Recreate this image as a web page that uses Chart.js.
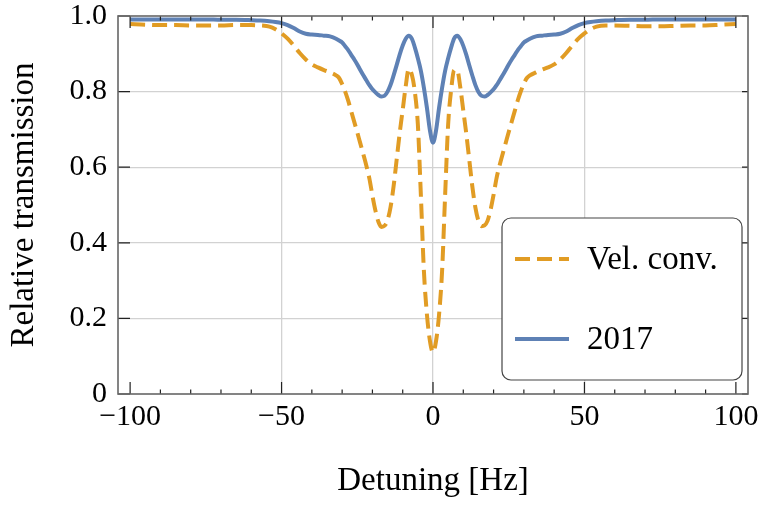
<!DOCTYPE html>
<html lang="en">
<head>
    <meta charset="UTF-8">
    <title>Relative transmission vs detuning</title>
    <script src="https://cdn.jsdelivr.net/npm/chart.js"></script>
    <style>
        html, body { margin: 0; padding: 0; background: #fff; }
        #chart { display: block; }
    </style>
</head>
<body>
    <canvas id="chart" width="761" height="505"></canvas>

    <script>
        // detuning in Hz
        const detuning = [
            -100, -95, -90, -85, -80, -75, -70, -65, -60, -57, -54, -52, -50, -48, -46, -44, -42, -40, -38, -36, -34, -32,
            -31, -30, -29, -28, -27, -26, -25, -24, -23, -22, -21, -20, -19, -18, -17, -16, -15, -14, -13, -12, -11,
            -10, -9, -8, -7, -6, -5, -4, -3, -2, -1, 0,
            1, 2, 3, 4, 5, 6, 7, 8, 9, 10, 11, 12, 13, 14, 15, 16, 17, 18, 19, 20, 21, 22, 23, 24, 25, 26, 27, 28, 29,
            30, 31, 32, 34, 36, 38, 40, 42, 44, 46, 48, 50, 52, 54, 57, 60, 65, 70, 75, 80, 85, 90, 95, 100
        ];
        const velConv = [
            0.979, 0.977, 0.976, 0.976, 0.975, 0.975, 0.975, 0.976, 0.976, 0.975, 0.972, 0.965, 0.954, 0.940, 0.922, 0.902, 0.885, 0.872, 0.864, 0.857, 0.851, 0.843,
            0.836, 0.820, 0.800, 0.776, 0.748, 0.720, 0.692, 0.663, 0.634, 0.604, 0.570, 0.525, 0.485, 0.455, 0.442, 0.445, 0.460, 0.495, 0.550, 0.620, 0.690,
            0.752, 0.815, 0.860, 0.845, 0.800, 0.713, 0.525, 0.325, 0.210, 0.140, 0.110,
            0.140, 0.210, 0.325, 0.525, 0.713, 0.805, 0.857, 0.856, 0.812, 0.750, 0.688, 0.618, 0.548, 0.493, 0.458, 0.444, 0.446, 0.458, 0.487, 0.527, 0.572, 0.605, 0.635, 0.664, 0.693, 0.721, 0.749, 0.777, 0.801,
            0.821, 0.836, 0.843, 0.851, 0.858, 0.864, 0.872, 0.885, 0.902, 0.922, 0.940, 0.954, 0.965, 0.972, 0.975, 0.975, 0.974, 0.973, 0.973, 0.974, 0.975, 0.975, 0.977, 0.979
        ];
        const data2017 = [
            0.991, 0.991, 0.991, 0.991, 0.991, 0.991, 0.990, 0.990, 0.989, 0.988, 0.986, 0.984, 0.981, 0.976, 0.968, 0.959, 0.953, 0.951, 0.950, 0.948, 0.946, 0.940,
            0.935, 0.930, 0.920, 0.910, 0.897, 0.885, 0.872, 0.857, 0.843, 0.830, 0.817, 0.806, 0.798, 0.791, 0.787, 0.789, 0.800, 0.818, 0.843, 0.870, 0.898,
            0.922, 0.940, 0.948, 0.940, 0.917, 0.888, 0.855, 0.810, 0.757, 0.697, 0.665,
            0.697, 0.757, 0.810, 0.855, 0.888, 0.917, 0.941, 0.948, 0.939, 0.921, 0.897, 0.869, 0.842, 0.817, 0.799, 0.789, 0.787, 0.791, 0.798, 0.806, 0.817, 0.830, 0.843, 0.857, 0.872, 0.885, 0.897, 0.910, 0.920,
            0.930, 0.935, 0.940, 0.946, 0.948, 0.950, 0.951, 0.953, 0.959, 0.968, 0.976, 0.981, 0.984, 0.986, 0.988, 0.989, 0.990, 0.990, 0.991, 0.991, 0.991, 0.991, 0.991, 0.991
        ];
        const xTicks = [-100, -50, 0, 50, 100];
        const yTicks = [0, 0.2, 0.4, 0.6, 0.8, 1.0];
        const seriesNames = ['Vel. conv.', '2017'];

        const ORANGE = '#E19C24';
        const BLUE = '#5E81B5';
        const SERIF = '"Liberation Serif", "Times New Roman", serif';

        const toPoints = vals => detuning.map((d, i) => ({ x: d, y: vals[i] }));

        // frame with inward ticks + the boxed legend, drawn on top of the curves
        const framePlugin = {
            id: 'frame',
            afterDatasetsDraw(chart) {
                const { ctx, chartArea: a, scales: { x, y } } = chart;
                ctx.save();

                ctx.strokeStyle = '#222';
                ctx.lineWidth = 1.2;
                ctx.beginPath();
                for (let v = xTicks[0]; v <= xTicks[xTicks.length - 1]; v += 10) {
                    const px = x.getPixelForValue(v);
                    const len = xTicks.includes(v) ? 12 : 4.5;
                    ctx.moveTo(px, a.bottom); ctx.lineTo(px, a.bottom - len);
                    ctx.moveTo(px, a.top); ctx.lineTo(px, a.top + len);
                }
                yTicks.forEach(v => {
                    const py = y.getPixelForValue(v);
                    ctx.moveTo(a.left, py); ctx.lineTo(a.left + 12, py);
                    ctx.moveTo(a.right, py); ctx.lineTo(a.right - 6, py);
                });
                ctx.stroke();

                ctx.strokeStyle = '#666';
                ctx.lineWidth = 1.6;
                ctx.strokeRect(a.left, a.top, a.right - a.left, a.bottom - a.top);

                // legend box
                const bx = a.right - 246, by = a.top + 202, bw = 240, bh = 162, r = 9;
                ctx.beginPath();
                ctx.moveTo(bx + r, by);
                ctx.arcTo(bx + bw, by, bx + bw, by + bh, r);
                ctx.arcTo(bx + bw, by + bh, bx, by + bh, r);
                ctx.arcTo(bx, by + bh, bx, by, r);
                ctx.arcTo(bx, by, bx + bw, by, r);
                ctx.closePath();
                ctx.fillStyle = '#fff';
                ctx.fill();
                ctx.strokeStyle = '#444';
                ctx.lineWidth = 1.2;
                ctx.stroke();

                const rows = [
                    { label: seriesNames[0], color: ORANGE, dash: [15, 7], y: by + 41 },
                    { label: seriesNames[1], color: BLUE, dash: [], y: by + 121 }
                ];
                ctx.font = '33px ' + SERIF;
                ctx.textBaseline = 'middle';
                ctx.textAlign = 'left';
                rows.forEach(row => {
                    ctx.beginPath();
                    ctx.setLineDash(row.dash);
                    ctx.strokeStyle = row.color;
                    ctx.lineWidth = 4;
                    ctx.moveTo(bx + 13, row.y);
                    ctx.lineTo(bx + 67, row.y);
                    ctx.stroke();
                    ctx.setLineDash([]);
                    ctx.fillStyle = '#000';
                    ctx.fillText(row.label, bx + 85, row.y + 1);
                });

                ctx.restore();
            }
        };

        new Chart(document.getElementById('chart'), {
            type: 'line',
            data: {
                datasets: [
                    {
                        label: seriesNames[1],
                        data: toPoints(data2017),
                        borderColor: BLUE,
                        borderWidth: 4,
                        pointRadius: 0,
                        cubicInterpolationMode: 'monotone'
                    },
                    {
                        label: seriesNames[0],
                        data: toPoints(velConv),
                        borderColor: ORANGE,
                        borderWidth: 4,
                        borderDash: [15, 7],
                        pointRadius: 0,
                        cubicInterpolationMode: 'monotone'
                    }
                ]
            },
            options: {
                responsive: false,
                animation: false,
                layout: { padding: { top: 16, right: 13, left: 0, bottom: 0 } },
                plugins: {
                    legend: { display: false },
                    tooltip: { enabled: false }
                },
                scales: {
                    x: {
                        type: 'linear',
                        min: -104,
                        max: 104,
                        afterBuildTicks: s => { s.ticks = xTicks.map(v => ({ value: v })); },
                        afterFit: s => { s.height = 111; s.paddingLeft = 0; s.paddingRight = 0; },
                        grid: {
                            drawTicks: false,
                            lineWidth: 1.3,
                            color: c => (c.tick && Math.abs(c.tick.value) === 100) ? 'rgba(0,0,0,0)' : '#d2d2d2'
                        },
                        border: { display: false },
                        ticks: {
                            padding: 8,
                            color: '#000',
                            maxRotation: 0,
                            font: { family: SERIF, size: 30, lineHeight: 1 },
                            callback: v => v < 0 ? '\u2212' + Math.abs(v) : String(v)
                        },
                        title: {
                            display: true,
                            text: 'Detuning [Hz]',
                            color: '#000',
                            font: { family: SERIF, size: 33 },
                            padding: { top: 0, bottom: 4 }
                        }
                    },
                    y: {
                        min: 0,
                        max: 1,
                        afterBuildTicks: s => { s.ticks = yTicks.map(v => ({ value: v })); },
                        afterFit: s => { s.width = 118; s.paddingTop = 0; s.paddingBottom = 0; },
                        grid: {
                            drawTicks: false,
                            lineWidth: 1.3,
                            color: c => (c.tick && (c.tick.value === 0 || c.tick.value === 1)) ? 'rgba(0,0,0,0)' : '#d2d2d2'
                        },
                        border: { display: false },
                        ticks: {
                            padding: 11,
                            color: '#000',
                            font: { family: SERIF, size: 30, lineHeight: 1 },
                            callback: v => v === 0 ? '0' : v.toFixed(1)
                        },
                        title: {
                            display: true,
                            text: 'Relative transmission',
                            color: '#000',
                            font: { family: SERIF, size: 33 },
                            padding: { top: 5, bottom: 0 }
                        }
                    }
                }
            },
            plugins: [framePlugin]
        });
    </script>
</body>
</html>
